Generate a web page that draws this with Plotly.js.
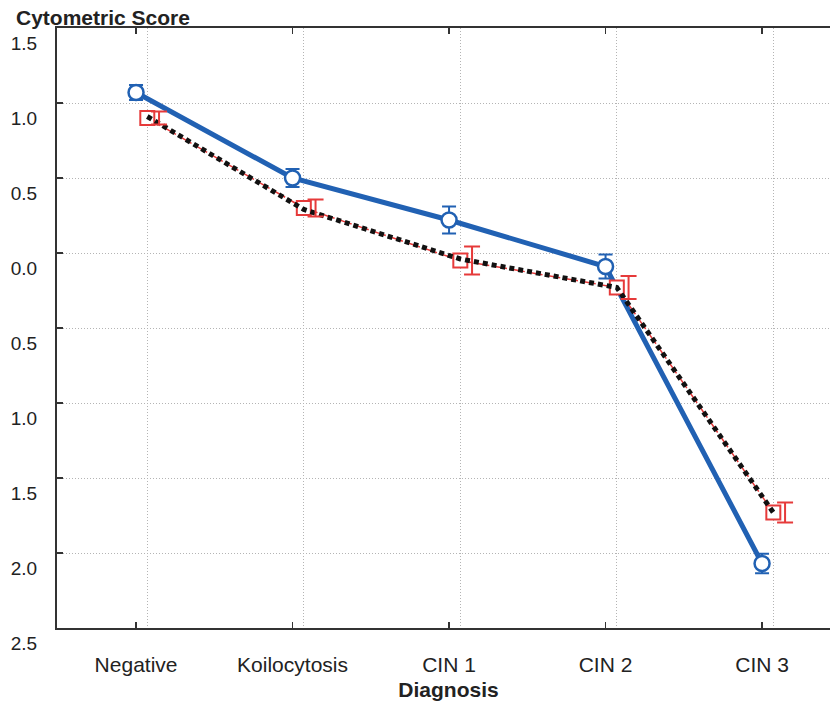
<!DOCTYPE html>
<html>
<head>
<meta charset="utf-8">
<script src="https://cdn.plot.ly/plotly-3.0.1.min.js"></script>
<style>html,body{margin:0;padding:0;background:#fff;overflow:hidden;}#chart{width:840px;height:708px;}</style>
</head>
<body>
<div id="chart"></div>
<script>
// ---- data ----
var categories = ['Negative', 'Koilocytosis', 'CIN 1', 'CIN 2', 'CIN 3'];
var blueMean = [1.07, 0.50, 0.22, -0.09, -2.07];
var blueErr  = [0.05, 0.06, 0.09, 0.08, 0.065];
var redMean  = [0.90, 0.30, -0.05, -0.23, -1.73];
var redErr   = [0.043, 0.057, 0.093, 0.077, 0.067];
var blackLine = [0.91, 0.29, -0.04, -0.23, -1.73];
var yTickVals = [1.5, 1.0, 0.5, 0.0, -0.5, -1.0, -1.5, -2.0, -2.5];
var yTickText = ['1.5', '1.0', '0.5', '0.0', '0.5', '1.0', '1.5', '2.0', '2.5'];

var FONT = 'Liberation Sans, Arial, sans-serif';
var BLUE = '#2161b3';
var RED = '#e63a3a';
var GRID = '#b4b4b4';
var AXIS = '#333333';

var xr = [-0.505, 4.498];
function shifted(d) { return [xr[0] - d, xr[1] - d]; }

var traces = [
  { // blue series
    x: categories, y: blueMean, xaxis: 'x', yaxis: 'y',
    type: 'scatter', mode: 'lines+markers',
    line: {color: BLUE, width: 5},
    marker: {symbol: 'circle', size: 15, color: '#ffffff', line: {color: BLUE, width: 2.5}},
    error_y: {type: 'data', array: blueErr, visible: true, color: BLUE, thickness: 2, width: 7}
  },
  { // red dashed line with square markers
    x: categories, y: redMean, xaxis: 'x2', yaxis: 'y',
    type: 'scatter', mode: 'lines+markers',
    line: {color: RED, width: 1.5, dash: 'dashdot'},
    marker: {symbol: 'square', size: 14, color: '#ffffff', line: {color: RED, width: 2}}
  },
  { // red error bars (slightly offset in the original print)
    x: categories, y: redMean, xaxis: 'x3', yaxis: 'y',
    type: 'scatter', mode: 'markers',
    marker: {size: 1, color: 'rgba(0,0,0,0)'},
    error_y: {type: 'data', array: redErr, visible: true, color: RED, thickness: 2, width: 8}
  },
  { // black dotted line
    x: categories, y: blackLine, xaxis: 'x2', yaxis: 'y',
    type: 'scatter', mode: 'lines',
    line: {color: '#111111', width: 5, dash: '5px,4px'}
  }
];

var layout = {
  width: 840, height: 708,
  margin: {l: 57, r: 0, t: 28, b: 80},
  paper_bgcolor: '#ffffff', plot_bgcolor: '#ffffff',
  showlegend: false, hovermode: false,
  font: {family: FONT, color: '#222222'},
  title: {
    text: '<b>Cytometric Score</b>',
    font: {family: FONT, size: 21, color: '#222222'},
    xref: 'container', x: 16 / 840, xanchor: 'left',
    yref: 'container', y: 1 - 18 / 708, yanchor: 'middle'
  },
  xaxis: {
    type: 'category', range: xr,
    showgrid: false, zeroline: false,
    showline: true, linecolor: AXIS, linewidth: 2, mirror: 'ticks',
    ticks: 'inside', ticklen: 6, tickwidth: 1.5, tickcolor: AXIS,
    tickfont: {family: FONT, size: 21, color: '#222222'},
    ticklabelstandoff: 17,
    title: {text: '<b>Diagnosis</b>', font: {family: FONT, size: 21, color: '#222222'}, standoff: 7}
  },
  xaxis2: {
    type: 'category', overlaying: 'x', range: shifted(0.072),
    showgrid: true, gridcolor: GRID, griddash: '1px,2px', gridwidth: 1,
    showticklabels: false, ticks: '', showline: false, zeroline: false
  },
  xaxis3: {
    type: 'category', overlaying: 'x', range: shifted(0.147),
    showgrid: false, showticklabels: false, ticks: '', showline: false, zeroline: false
  },
  yaxis: {
    range: [-2.5, 1.5],
    tickvals: yTickVals, ticktext: yTickText,
    showgrid: true, gridcolor: GRID, griddash: '1px,2px', gridwidth: 1,
    zeroline: false, mirror: false,
    showline: true, linecolor: AXIS, linewidth: 2,
    ticks: 'inside', ticklen: 6, tickwidth: 1.5, tickcolor: AXIS,
    tickfont: {family: FONT, size: 19, color: '#222222'},
    ticklabelstandoff: 14, ticklabelshift: 15
  }
};

Plotly.newPlot('chart', traces, layout, {displayModeBar: false, staticPlot: true});
</script>
</body>
</html>
